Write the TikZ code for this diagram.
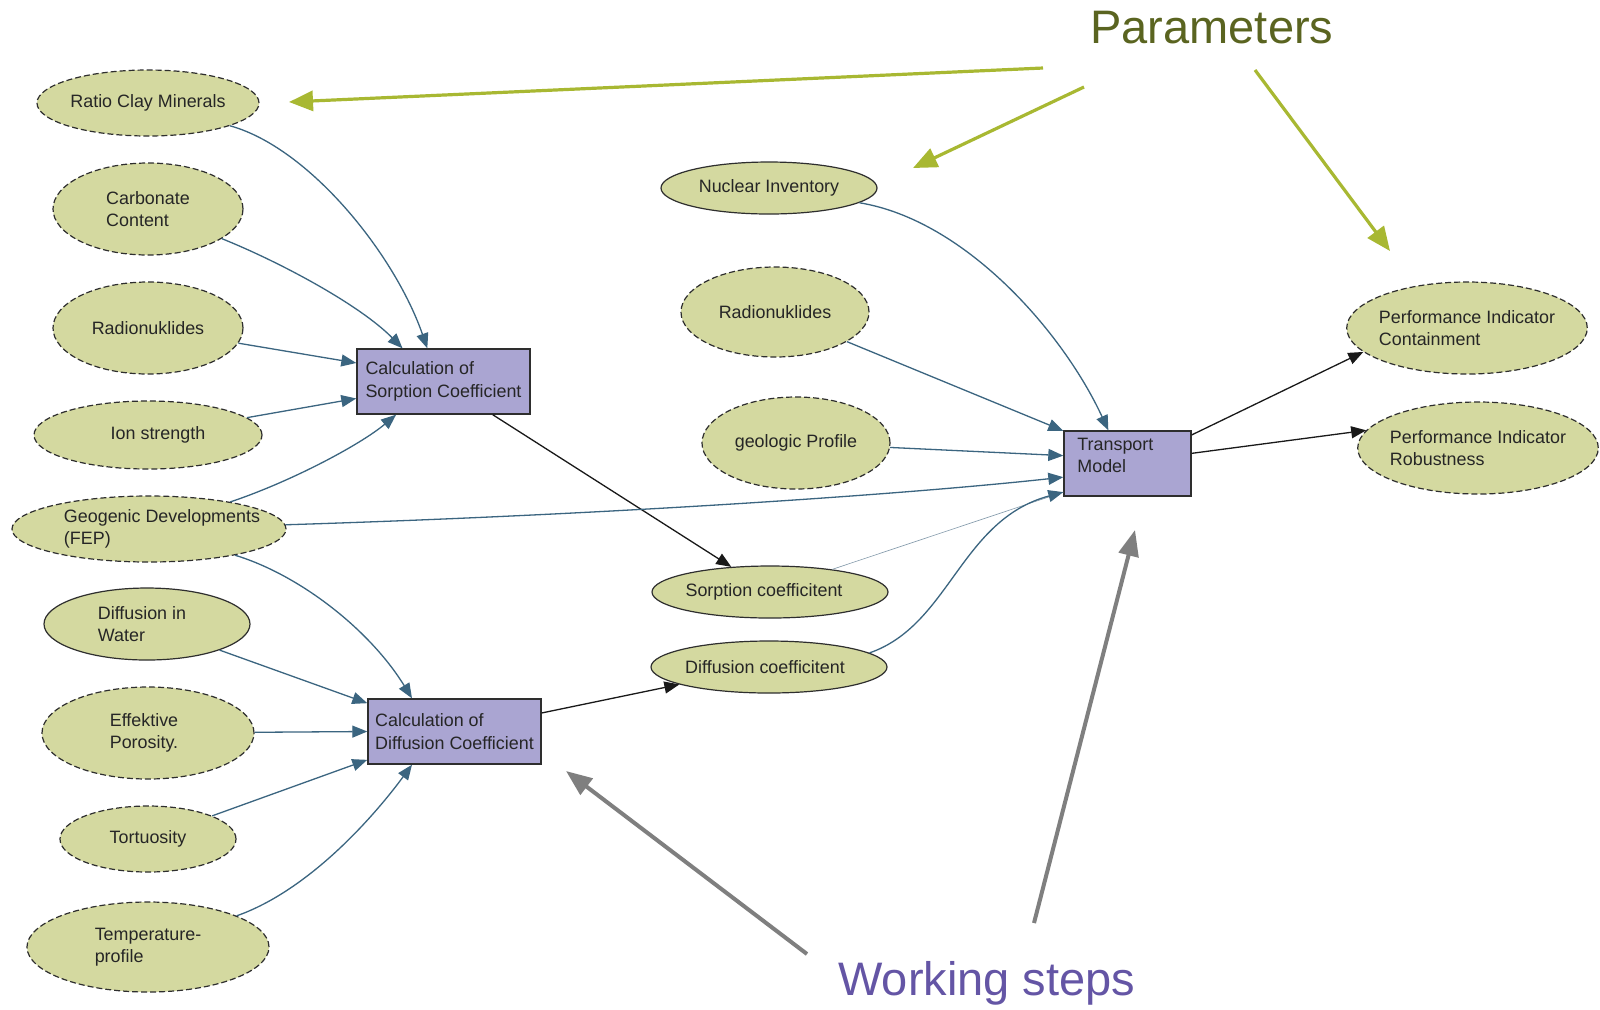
\documentclass[tikz,border=0pt]{standalone}
\usepackage{fontspec}
\setmainfont{Liberation Sans}
\usetikzlibrary{shapes.geometric,arrows.meta}

\definecolor{paramfill}{HTML}{D4D9A0}
\definecolor{stepfill}{HTML}{AAA5D2}
\definecolor{edgeblue}{HTML}{3B6580}
\definecolor{thinblue}{HTML}{7F97A8}
\definecolor{outline}{HTML}{2E2E2E}
\definecolor{paramtitle}{HTML}{5A6420}
\definecolor{paramarrow}{HTML}{A8B832}
\definecolor{steptitle}{HTML}{6455A5}
\definecolor{steparrow}{HTML}{7F7F7F}

\newcommand\diaglabelfont{\fontsize{8.95pt}{11.2pt}\selectfont}
\newcommand\diagtitlefont{\fontsize{23.5pt}{28pt}\selectfont}

\tikzset{
  param/.style={ellipse, draw=outline, fill=paramfill, line width=0.6pt,
    dash pattern=on 3pt off 1.5pt, inner sep=0pt, align=left,
    text=black!85, font=\diaglabelfont},
  paramsolid/.style={param, solid},
  ptext/.style={inner sep=0pt, align=left, text=black!85, font=\diaglabelfont},
  stepbox/.style={rectangle, draw=outline, fill=stepfill, line width=0.7pt,
    inner sep=0pt, align=left, minimum height=32.5pt, text=black!85,
    font=\diaglabelfont},
  feed/.style={draw=edgeblue, line width=0.65pt,
    -{Triangle[length=7.5pt,width=6pt]}},
  thinfeed/.style={draw=thinblue, line width=0.3pt},
  result/.style={draw=black!90, line width=0.65pt,
    -{Triangle[length=7.5pt,width=6pt]}},
  hintparam/.style={draw=paramarrow, line width=1.6pt,
    -{Triangle[length=12pt,width=10pt]}},
  hintstep/.style={draw=steparrow, line width=2pt,
    -{Triangle[length=13pt,width=10pt]}},
  heading/.style={inner sep=0pt, font=\diagtitlefont, anchor=base west}
}

\begin{document}
\begin{tikzpicture}[x=0.5pt,y=-0.5pt]
\fill[white] (0,0) rectangle (1600,1009);
\useasboundingbox (0,0) rectangle (1600,1009);

% input parameters, left column
\node[param, minimum width=111pt, minimum height=33pt] (ratio) at (148,103) {Ratio Clay Minerals};
\node[param, minimum width=95pt, minimum height=46pt] (carb) at (148,209) {Carbonate\\Content};
\node[param, minimum width=95pt, minimum height=46pt] (radl) at (148,328) {Radionuklides};
\node[param, minimum width=114pt, minimum height=34pt] (ion) at (148,435) {};
\node[ptext] (iontext) at (158,435) {Ion strength};
\node[param, minimum width=137pt, minimum height=33pt] (geo) at (149,529) {};
\node[ptext] (geotext) at (162,529) {Geogenic Developments\\(FEP)};
\node[paramsolid, minimum width=103pt, minimum height=36pt] (diffw) at (147,624) {};
\node[ptext] (diffwtext) at (142,624) {Diffusion in\\Water};
\node[param, minimum width=106pt, minimum height=46pt] (poro) at (148,733) {};
\node[ptext] (porotext) at (144,733) {Effektive\\Porosity.};
\node[param, minimum width=88pt, minimum height=33pt] (tort) at (148,839) {Tortuosity};
\node[param, minimum width=121pt, minimum height=45pt] (temp) at (148,947) {Temperature-\\profile};

% middle column
\node[paramsolid, minimum width=108pt, minimum height=26pt] (nucl) at (769,188) {Nuclear Inventory};
\node[param, minimum width=94pt, minimum height=45pt] (radr) at (775,312) {Radionuklides};
\node[param, minimum width=94pt, minimum height=46pt] (geol) at (796,443) {geologic Profile};
\node[paramsolid, minimum width=118pt, minimum height=26pt] (sorpc) at (770,592) {};
\node[ptext] (sorpctext) at (764,592) {Sorption coefficitent};
\node[paramsolid, minimum width=118pt, minimum height=26pt] (diffc) at (769,667) {};
\node[ptext] (diffctext) at (765,667) {Diffusion coefficitent};

% results
\node[param, minimum width=120pt, minimum height=46pt, inner xsep=-1.5pt] (pic) at (1467,328) {Performance Indicator\\Containment};
\node[param, minimum width=120pt, minimum height=46pt, inner xsep=-1.5pt] (pir) at (1478,448) {Performance Indicator\\Robustness};

% working steps
\node[stepbox, minimum width=86.5pt] (sbox) at (443.5,381.5) {Calculation of\\Sorption Coefficient};
\node[stepbox, minimum width=86.5pt] (dbox) at (454.5,731.5) {Calculation of\\Diffusion Coefficient};
\node[stepbox, minimum width=63.5pt] (tbox) at (1127.5,463.5) {};
\node[ptext, anchor=north west] (tboxtext) at (1077,437.6) {Transport\\Model};

% inputs of the sorption step
\draw[feed] (ratio) .. controls (310,148) and (395,255) .. (sbox.116.9);
\draw[feed] (carb) .. controls (280,262) and (360,305) .. (sbox.141.6);
\draw[feed] (radl) -- (sbox.168.6);
\draw[feed] (ion) -- (sbox.191.4);
\draw[feed] (geo) .. controls (290,482) and (360,445) .. (sbox.215.2);

% inputs of the diffusion step
\draw[feed] (geo) .. controls (300,575) and (370,630) .. (dbox.142);
\draw[feed] (diffw) -- (dbox.162.4);
\draw[feed] (poro) -- (dbox.west);
\draw[feed] (tort) -- (dbox.198.8);
\draw[feed] (temp) .. controls (310,890) and (375,815) .. (dbox.218.7);

% step outputs
\draw[result] (sbox.326.2) -- (sorpc.147.9);
\draw[result] (dbox.12.7) -- (diffc.191.9);

% inputs of the transport model
\draw[feed] (nucl) .. controls (965,220) and (1063,332) .. (tbox.120);
\draw[feed] (radr) -- (tbox.153.6);
\draw[feed] (geol) -- (tbox.173.3);
\draw[feed] (geo) .. controls (600,515) and (900,495) .. (tbox.192);
\draw[thinfeed] (sorpc.20) -- (tbox.204.9);
\draw[feed] (diffc.8) .. controls (950,625) and (960,520) .. (tbox.204.9);

% transport model results
\draw[result] (tbox.24.9) -- (pic.193.5);
\draw[result] (tbox.9.4) -- (pir.171.4);

% legend: parameters
\node[heading, text=paramtitle] (paramlabel) at (1090,43) {Parameters};
\coordinate (pa1) at (1043,68);  \coordinate (pb1) at (289,102);
\coordinate (pa2) at (1084,87);  \coordinate (pb2) at (913,168);
\coordinate (pa3) at (1255,70);  \coordinate (pb3) at (1390,251);
\draw[hintparam] (pa1) -- (pb1);
\draw[hintparam] (pa2) -- (pb2);
\draw[hintparam] (pa3) -- (pb3);

% legend: working steps
\node[heading, text=steptitle] (steplabel) at (838,995) {Working steps};
\coordinate (sa1) at (807,954);  \coordinate (sb1) at (566,771);
\coordinate (sa2) at (1034,923); \coordinate (sb2) at (1135,530);
\draw[hintstep] (sa1) -- (sb1);
\draw[hintstep] (sa2) -- (sb2);
\end{tikzpicture}
\end{document}
